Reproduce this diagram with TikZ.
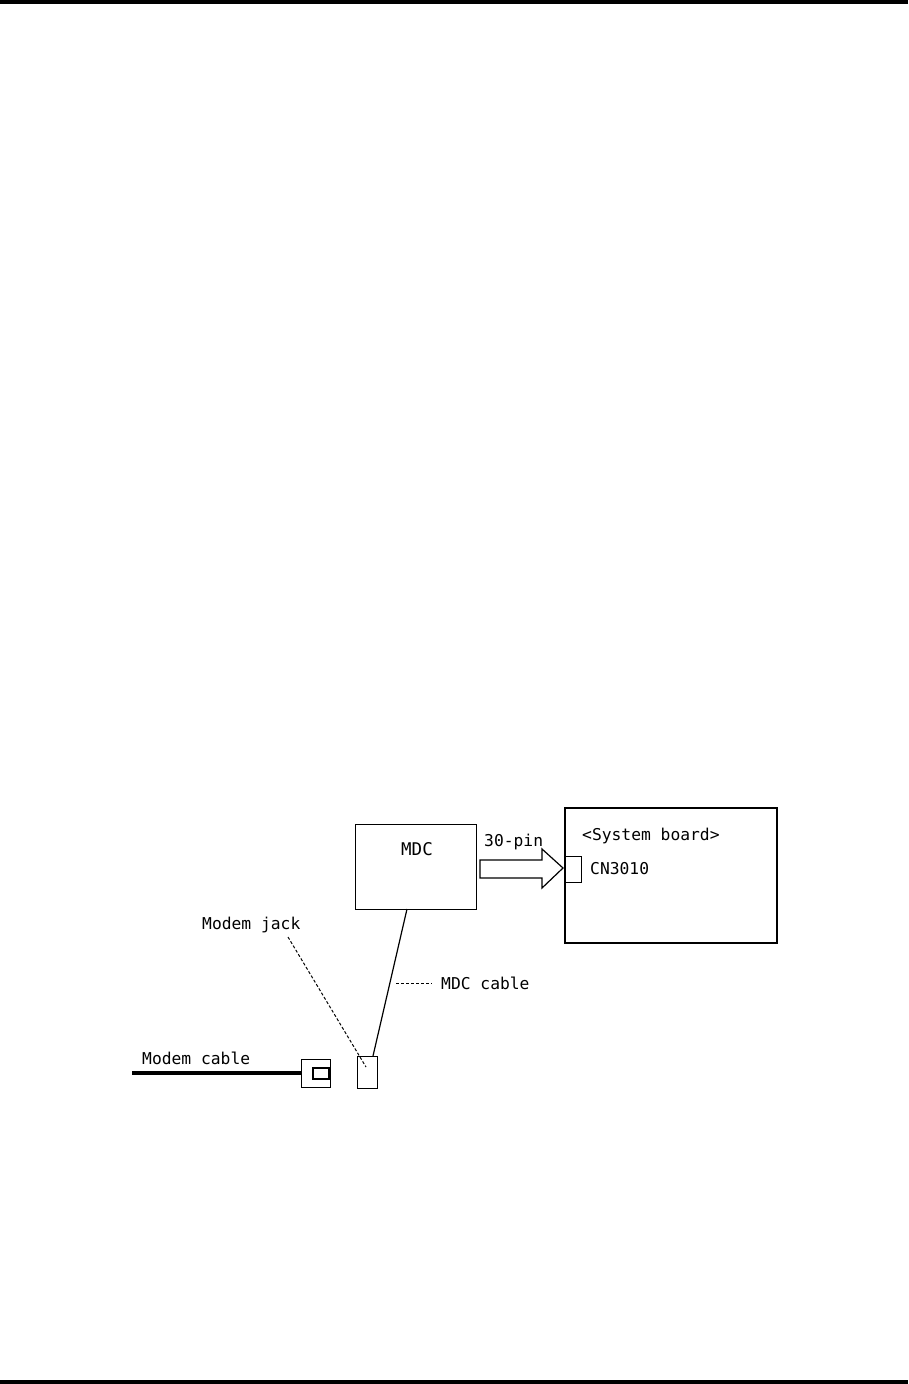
\documentclass[tikz,border=0pt]{standalone}
\usepackage{fontspec}
\setmonofont{DejaVu Sans Mono}
\begin{document}
\begin{tikzpicture}[x=1pt,y=-1pt,
  box/.style={draw,line width=1.2pt,inner sep=0pt,anchor=north west},
  lbl/.style={font=\ttfamily\fontsize{16.3}{18}\selectfont,inner sep=0pt,anchor=west},
  leader/.style={line width=1pt,dash pattern=on 3pt off 2pt},
  wire/.style={line width=1.2pt},
  fatarrow/.style={draw,line width=1.2pt,line join=miter}]
\useasboundingbox (0,0) rectangle (908,1384);
\fill (0,0) rectangle (908,4);
\fill (0,1380) rectangle (908,1384);
% MDC
\node[box,minimum width=121pt,minimum height=85pt] (mdc) at (355,824) {};
\node[lbl,anchor=center,font=\ttfamily\fontsize{17.5}{19}\selectfont] (mdct) at (417,849) {MDC};
% System board
\node[box,line width=1.5pt,minimum width=212pt,minimum height=135pt] (sb) at (564,807) {};
\node[lbl] (sbt) at (582,836) {<System board>};
\node[box,minimum width=17pt,minimum height=26pt] (cn) at (564,856) {};
\node[lbl] (cnt) at (590,869) {CN3010};
% arrow (30-pin)
\coordinate (tip) at (563,868);
\draw[fatarrow] (480,860) -- (542,860) -- (542,849) -- (tip) -- (542,888) -- (542,878) -- (480,878) -- cycle;
\node[lbl] (pin) at (484,842) {30-pin};
% jack
\node[box,minimum width=20pt,minimum height=32pt] (jack) at (357,1056) {};
\coordinate (mdcb) at (407,909);
\coordinate (jtop) at (373,1056);
\draw[wire] (mdcb) -- (jtop);
% MDC cable label
\coordinate (cl1) at (396,983);
\coordinate (cl2) at (432,983);
\draw[leader] (cl1) -- (cl2);
\node[lbl] (mdcc) at (441,983) {MDC cable};
% Modem jack label
\node[lbl] (mjt) at (202,925) {Modem jack};
\coordinate (jl1) at (288,937);
\coordinate (jl2) at (366,1067);
\draw[leader] (jl1) -- (jl2);
% plug
\node[box,minimum width=29pt,minimum height=28pt] (plug) at (301,1059) {};
\node[box,line width=2pt,minimum width=16pt,minimum height=11pt] (plugin) at (312,1067) {};
\coordinate (cend) at (132,1073);
\draw[line width=4pt] (cend) -- (plug.west |- cend);
\node[lbl] (mct) at (142,1058) {Modem cable};
\end{tikzpicture}
\end{document}
